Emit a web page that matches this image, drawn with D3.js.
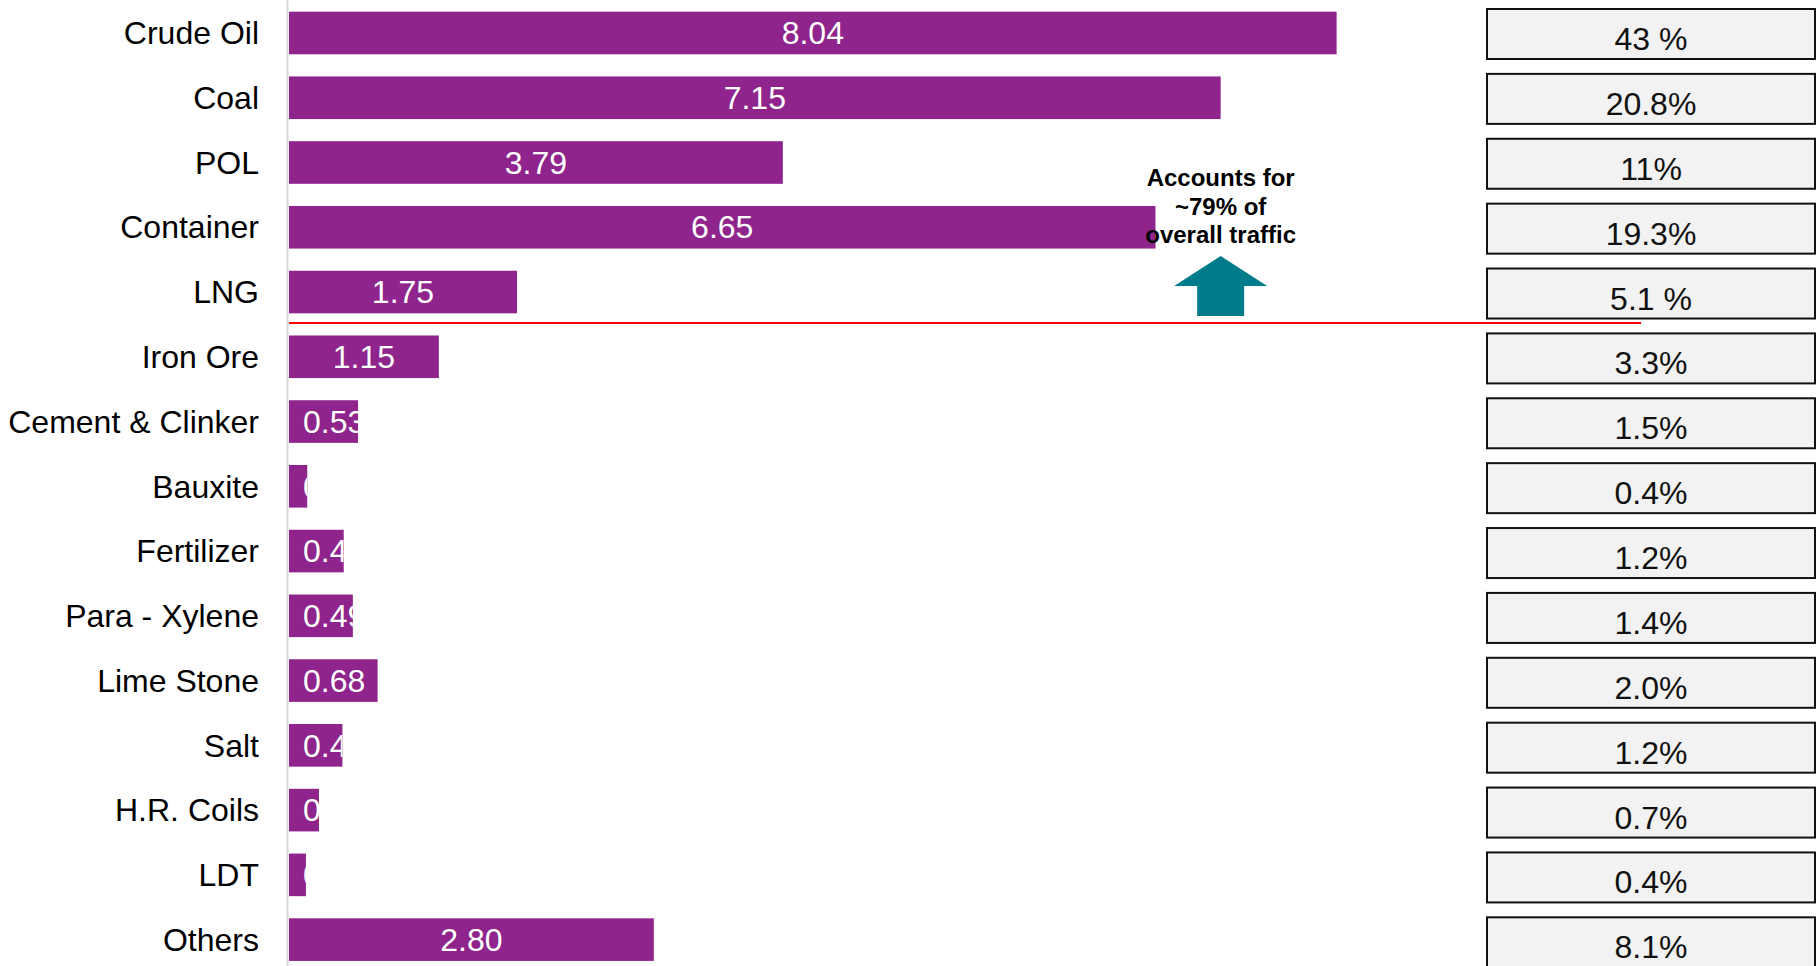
<!DOCTYPE html>
<html>
<head>
<meta charset="utf-8">
<script src="https://cdn.jsdelivr.net/npm/d3@7"></script>
<style>
  html, body { margin: 0; padding: 0; background: #ffffff; }
  svg { display: block; font-family: "Liberation Sans", Arial, sans-serif; }
</style>
</head>
<body>
<svg id="chart" width="1819" height="966"></svg>
<script>
// ---- data ----
const categories = ["Crude Oil", "Coal", "POL", "Container", "LNG", "Iron Ore",
  "Cement & Clinker", "Bauxite", "Fertilizer", "Para - Xylene", "Lime Stone",
  "Salt", "H.R. Coils", "LDT", "Others"];
const values = [8.04, 7.15, 3.79, 6.65, 1.75, 1.15, 0.53, 0.14, 0.42, 0.49, 0.68, 0.41, 0.23, 0.13, 2.80];
const shares = ["43 %", "20.8%", "11%", "19.3%", "5.1 %", "3.3%", "1.5%", "0.4%", "1.2%",
  "1.4%", "2.0%", "1.2%", "0.7%", "0.4%", "8.1%"];
const annotationLines = ["Accounts for", "~79% of", "overall traffic"];
const splitAfter = "LNG";       // red divider below this category
const annotationAt = 7.15;      // x value where the annotation arrow sits

const data = categories.map((c, i) => ({ cat: c, v: values[i], share: shares[i] }));

// ---- layout ----
const svg = d3.select("#chart");
const W = 1819, H = 966;
const x = d3.scaleLinear().domain([0, 10]).range([289, 289 + 1303]);
const y = d3.scaleBand().domain(categories).range([0.6, 0.6 + 971.4])
  .paddingInner(0.342).paddingOuter(0.171);
// boxes on the right use a slightly different pitch
const yBox = d3.scaleBand().domain(categories)
  .range([9 - 14.88 / 2, 9 - 14.88 / 2 + 15 * 64.88])
  .paddingInner(14.88 / 64.88).paddingOuter(14.88 / 64.88 / 2);

const purple = "#8e248c";
const teal = "#007b8c";
const fontSize = 32;

// axis line
svg.append("line")
  .attr("x1", x(0) - 1.5).attr("x2", x(0) - 1.5)
  .attr("y1", 0).attr("y2", H)
  .attr("stroke", "#d9d9d9").attr("stroke-width", 2);

// category labels (via axis)
const yAxis = d3.axisLeft(y).tickSize(0).tickPadding(0);
const gAxis = svg.append("g").attr("transform", `translate(259,0)`).call(yAxis);
gAxis.select(".domain").remove();
gAxis.selectAll("text")
  .attr("font-size", fontSize)
  .attr("font-family", "'Liberation Sans', Arial, sans-serif")
  .attr("fill", "#000")
  .attr("dy", "0.35em");

// clip paths for labels
const defs = svg.append("defs");
data.forEach((d, i) => {
  defs.append("clipPath").attr("id", "clip" + i)
    .append("rect")
    .attr("x", x(0)).attr("y", y(d.cat))
    .attr("width", x(d.v) - x(0)).attr("height", y.bandwidth());
});

// bars
svg.append("g").selectAll("rect").data(data).join("rect")
  .attr("x", x(0))
  .attr("y", d => y(d.cat))
  .attr("width", d => x(d.v) - x(0))
  .attr("height", y.bandwidth())
  .attr("fill", purple);

// value labels
const fmt = d3.format(".2f");
const labels = svg.append("g").selectAll("text").data(data).join("text")
  .attr("clip-path", (d, i) => `url(#clip${i})`)
  .attr("y", d => y(d.cat) + y.bandwidth() / 2)
  .attr("dy", "0.35em")
  .attr("font-size", fontSize)
  .attr("fill", "#fff")
  .attr("text-anchor", "start")
  .text(d => fmt(d.v));
labels.each(function(d) {
  const w = this.getComputedTextLength();
  const center = (x(0) + x(d.v)) / 2;
  d3.select(this).attr("x", Math.max(x(0) + 14, center - w / 2));
});

// share boxes
const boxX = 1487, boxW = 328;
const boxes = svg.append("g");
boxes.selectAll("rect").data(data).join("rect")
  .attr("x", boxX)
  .attr("y", d => yBox(d.cat))
  .attr("width", boxW).attr("height", yBox.bandwidth())
  .attr("fill", "#f2f2f2").attr("stroke", "#111").attr("stroke-width", 2);
boxes.selectAll("text").data(data).join("text")
  .attr("x", boxX + boxW / 2)
  .attr("y", d => yBox(d.cat) + yBox.bandwidth() / 2)
  .attr("dy", "0.5em")
  .attr("text-anchor", "middle")
  .attr("font-size", fontSize)
  .attr("fill", "#111")
  .text(d => d.share);

// red divider
const iSplit = categories.indexOf(splitAfter);
const lineY = (y(categories[iSplit]) + y.bandwidth() + y(categories[iSplit + 1])) / 2 - 1.3;
svg.append("line")
  .attr("x1", x(0)).attr("x2", 1641)
  .attr("y1", lineY).attr("y2", lineY)
  .attr("stroke", "#ff0000").attr("stroke-width", 2);

// arrow
const ax = x(annotationAt);
const tipY = 256, headBase = 286, shaftBottom = 316;
svg.append("path")
  .attr("d", `M${ax},${tipY} L${ax + 46.5},${headBase} L${ax + 23.5},${headBase} L${ax + 23.5},${shaftBottom}
             L${ax - 23.5},${shaftBottom} L${ax - 23.5},${headBase} L${ax - 46.5},${headBase} Z`)
  .attr("fill", teal);

// annotation text
svg.append("g").selectAll("text").data(annotationLines).join("text")
  .attr("x", ax)
  .attr("y", (d, i) => 186 + i * 28.7)
  .attr("text-anchor", "middle")
  .attr("font-size", 24)
  .attr("font-weight", "bold")
  .attr("fill", "#000")
  .text(d => d);
</script>
</body>
</html>
